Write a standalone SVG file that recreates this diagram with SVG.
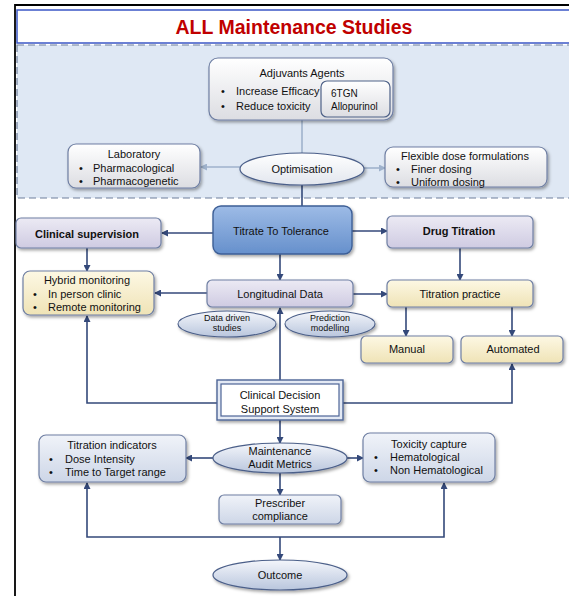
<svg xmlns="http://www.w3.org/2000/svg" width="569" height="596" viewBox="0 0 569 596">
  <style>
    text { font-family: "Liberation Sans", Arial, sans-serif; font-size: 11px; fill: #111; }
    .c { text-anchor: middle; }
    .b { font-weight: bold; }
    .sm { font-size: 9px; }
    .box { stroke: #6f7fa3; stroke-width: 1.2; filter: url(#shadow); }
    .conn { fill: none; stroke: #34497a; stroke-width: 1.6; }
    .soft { fill: none; stroke: #9fb2cc; stroke-width: 1.6; }
  </style>
  <defs>
    <filter id="shadow" x="-10%" y="-10%" width="130%" height="140%">
      <feDropShadow dx="1.5" dy="2" stdDeviation="1.4" flood-color="#000" flood-opacity="0.35"/>
    </filter>
    <linearGradient id="gGrey" x1="0" y1="0" x2="0" y2="1">
      <stop offset="0" stop-color="#ffffff"/>
      <stop offset="1" stop-color="#dcdde2"/>
    </linearGradient>
    <linearGradient id="gLav" x1="0" y1="0" x2="0" y2="1">
      <stop offset="0" stop-color="#eceaf4"/>
      <stop offset="1" stop-color="#cfcbe2"/>
    </linearGradient>
    <linearGradient id="gYel" x1="0" y1="0" x2="0" y2="1">
      <stop offset="0" stop-color="#fdf8e4"/>
      <stop offset="1" stop-color="#efe3b6"/>
    </linearGradient>
    <linearGradient id="gBlueGrey" x1="0" y1="0" x2="0" y2="1">
      <stop offset="0" stop-color="#f0f3f9"/>
      <stop offset="1" stop-color="#cdd6e7"/>
    </linearGradient>
    <linearGradient id="gBlue" x1="0" y1="0" x2="0" y2="1">
      <stop offset="0" stop-color="#9dbbe6"/>
      <stop offset="1" stop-color="#6690cc"/>
    </linearGradient>
    <linearGradient id="gEll" x1="0" y1="0" x2="0" y2="1">
      <stop offset="0" stop-color="#f4f6fb"/>
      <stop offset="1" stop-color="#b9c6dd"/>
    </linearGradient>
    <linearGradient id="gEllWhite" x1="0" y1="0" x2="0" y2="1">
      <stop offset="0" stop-color="#ffffff"/>
      <stop offset="1" stop-color="#e2e6ee"/>
    </linearGradient>
    <marker id="arrow" markerUnits="userSpaceOnUse" markerWidth="7" markerHeight="7" refX="6" refY="3.5" orient="auto">
      <path d="M0,0 L7,3.5 L0,7 z" fill="#34497a"/>
    </marker>
    <marker id="arrowSoft" markerUnits="userSpaceOnUse" markerWidth="7" markerHeight="7" refX="6" refY="3.5" orient="auto">
      <path d="M0,0 L7,3.5 L0,7 z" fill="#9fb2cc"/>
    </marker>
  </defs>

  <!-- page frame -->
  <rect width="569" height="596" fill="#ffffff"/>
  <path d="M15,596 L15,5 L569,5" fill="none" stroke="#000" stroke-width="1.8"/>

  <!-- title band -->
  <g id="title">
    <rect x="17" y="10" width="560" height="33" fill="#ffffff" stroke="#3b57c6" stroke-width="1.5"/>
    <text x="294" y="34" class="c b" style="font-size:19.5px; fill:#c00000;">ALL Maintenance Studies</text>
  </g>

  <!-- optimisation area -->
  <rect id="optimisation-area" x="17" y="45" width="560" height="153" fill="#dfe8f4" stroke="#6f7f9c" stroke-width="1.2" stroke-dasharray="7,4"/>

  <!-- connectors -->
  <g id="connectors">
    <line x1="302" y1="120" x2="302" y2="153" class="soft"/>
    <line x1="302" y1="185" x2="302" y2="206" class="conn"/>
    <line x1="240" y1="167" x2="201" y2="167" class="soft" marker-end="url(#arrowSoft)"/>
    <line x1="364" y1="168" x2="385" y2="168" class="soft" marker-end="url(#arrowSoft)"/>

    <line x1="213" y1="233" x2="162" y2="233" class="conn" marker-end="url(#arrow)"/>
    <line x1="352" y1="231" x2="387" y2="231" class="conn" marker-end="url(#arrow)"/>
    <line x1="87" y1="248" x2="87" y2="271" class="conn" marker-end="url(#arrow)"/>
    <line x1="280" y1="254" x2="280" y2="280" class="conn" marker-end="url(#arrow)"/>
    <line x1="460" y1="248" x2="460" y2="280" class="conn" marker-end="url(#arrow)"/>

    <line x1="207" y1="293" x2="155" y2="293" class="conn" marker-end="url(#arrow)"/>
    <line x1="353" y1="294" x2="387" y2="294" class="conn" marker-end="url(#arrow)"/>
    <line x1="406" y1="307" x2="406" y2="336" class="conn" marker-end="url(#arrow)"/>
    <line x1="512" y1="307" x2="512" y2="336" class="conn" marker-end="url(#arrow)"/>

    <line x1="280" y1="380" x2="280" y2="308" class="conn" marker-end="url(#arrow)"/>
    <polyline points="217,403 87,403 87,316" class="conn" marker-end="url(#arrow)"/>
    <polyline points="343,403 512,403 512,364" class="conn" marker-end="url(#arrow)"/>
    <line x1="280" y1="420" x2="280" y2="443" class="conn" marker-end="url(#arrow)"/>

    <line x1="213" y1="458" x2="186" y2="458" class="conn" marker-end="url(#arrow)"/>
    <line x1="347" y1="458" x2="363" y2="458" class="conn" marker-end="url(#arrow)"/>
    <line x1="280" y1="473" x2="280" y2="495" class="conn" marker-end="url(#arrow)"/>

    <polyline points="280,537 87,537 87,483" class="conn" marker-end="url(#arrow)"/>
    <polyline points="280,537 444,537 444,483" class="conn" marker-end="url(#arrow)"/>
    <line x1="280" y1="537" x2="280" y2="560" class="conn" marker-end="url(#arrow)"/>
  </g>

  <!-- top region nodes -->
  <g id="adjuvants">
    <rect x="209" y="58" width="184" height="62" rx="9" fill="url(#gGrey)" class="box"/>
    <text x="302" y="77" class="c">Adjuvants Agents</text>
    <text x="221" y="95">•</text>
    <text x="236" y="95">Increase Efficacy</text>
    <text x="221" y="110">•</text>
    <text x="236" y="110">Reduce toxicity</text>
  </g>
  <g id="adjuvant-drugs">
    <rect x="321" y="81" width="69" height="36" rx="6" fill="url(#gGrey)" stroke="#4f6288" stroke-width="1.2"/>
    <text x="331" y="97" style="font-size:10px">6TGN</text>
    <text x="331" y="110" style="font-size:10px">Allopurinol</text>
  </g>
  <g id="laboratory">
    <rect x="68" y="144" width="132" height="44" rx="8" fill="url(#gGrey)" class="box"/>
    <text x="134" y="158" class="c">Laboratory</text>
    <text x="79" y="172">•</text>
    <text x="93" y="172">Pharmacological</text>
    <text x="79" y="185">•</text>
    <text x="93" y="185">Pharmacogenetic</text>
  </g>
  <g id="optimisation">
    <ellipse cx="302" cy="169" rx="62" ry="16" fill="url(#gEllWhite)" stroke="#4b5f89" stroke-width="1.2" filter="url(#shadow)"/>
    <text x="302" y="173" class="c">Optimisation</text>
  </g>
  <g id="flexible-dose">
    <rect x="385" y="147" width="162" height="40" rx="8" fill="url(#gGrey)" class="box"/>
    <text x="465" y="160" class="c">Flexible dose formulations</text>
    <text x="396" y="173">•</text>
    <text x="411" y="173">Finer dosing</text>
    <text x="396" y="186">•</text>
    <text x="411" y="186">Uniform dosing</text>
  </g>

  <!-- titration row -->
  <g id="titrate-to-tolerance">
    <rect x="213" y="206" width="139" height="48" rx="8" fill="url(#gBlue)" stroke="#3e5f96" stroke-width="1.4" filter="url(#shadow)"/>
    <text x="281" y="235" class="c">Titrate To Tolerance</text>
  </g>
  <g id="clinical-supervision">
    <rect x="16" y="218" width="145" height="30" rx="5" fill="url(#gLav)" class="box"/>
    <text x="87" y="238" class="c b">Clinical supervision</text>
  </g>
  <g id="drug-titration">
    <rect x="387" y="216" width="146" height="32" rx="5" fill="url(#gLav)" class="box"/>
    <text x="459" y="235" class="c b">Drug Titration</text>
  </g>

  <!-- data row -->
  <g id="hybrid-monitoring">
    <rect x="23" y="271" width="131" height="44" rx="7" fill="url(#gYel)" class="box"/>
    <text x="87" y="284" class="c">Hybrid monitoring</text>
    <text x="33" y="298">•</text>
    <text x="48" y="298">In person clinic</text>
    <text x="33" y="311">•</text>
    <text x="48" y="311">Remote monitoring</text>
  </g>
  <g id="longitudinal-data">
    <rect x="207" y="280" width="146" height="27" rx="5" fill="url(#gLav)" class="box"/>
    <text x="280" y="298" class="c">Longitudinal Data</text>
  </g>
  <g id="data-driven-studies">
    <ellipse cx="227" cy="324" rx="49" ry="13" fill="url(#gEll)" stroke="#4b5f89" stroke-width="1.1" filter="url(#shadow)"/>
    <text x="227" y="321" class="c sm">Data driven</text>
    <text x="227" y="331" class="c sm">studies</text>
  </g>
  <g id="prediction-modelling">
    <ellipse cx="330" cy="324" rx="45" ry="13" fill="url(#gEll)" stroke="#4b5f89" stroke-width="1.1" filter="url(#shadow)"/>
    <text x="330" y="321" class="c sm">Prediction</text>
    <text x="330" y="331" class="c sm">modelling</text>
  </g>
  <g id="titration-practice">
    <rect x="387" y="280" width="146" height="27" rx="5" fill="url(#gYel)" class="box"/>
    <text x="460" y="298" class="c">Titration practice</text>
  </g>
  <g id="manual">
    <rect x="361" y="336" width="92" height="27" rx="5" fill="url(#gYel)" class="box"/>
    <text x="407" y="353" class="c">Manual</text>
  </g>
  <g id="automated">
    <rect x="461" y="336" width="102" height="27" rx="5" fill="url(#gYel)" class="box"/>
    <text x="513" y="353" class="c">Automated</text>
  </g>

  <!-- decision support -->
  <g id="clinical-decision-support">
    <rect x="217" y="380" width="126" height="40" fill="#e3e9f4" stroke="#4d6496" stroke-width="1.4" filter="url(#shadow)"/>
    <rect x="221" y="384" width="118" height="32" fill="#ffffff" stroke="#4d6496" stroke-width="1.2"/>
    <text x="280" y="399" class="c">Clinical Decision</text>
    <text x="280" y="413" class="c">Support System</text>
  </g>

  <!-- audit row -->
  <g id="titration-indicators">
    <rect x="39" y="435" width="147" height="47" rx="7" fill="url(#gBlueGrey)" class="box"/>
    <text x="112" y="449" class="c">Titration indicators</text>
    <text x="49" y="463">•</text>
    <text x="65" y="463">Dose Intensity</text>
    <text x="49" y="476">•</text>
    <text x="65" y="476">Time to Target range</text>
  </g>
  <g id="maintenance-audit-metrics">
    <ellipse cx="280" cy="458" rx="67" ry="15" fill="url(#gEll)" stroke="#4b5f89" stroke-width="1.2" filter="url(#shadow)"/>
    <text x="280" y="455" class="c">Maintenance</text>
    <text x="280" y="468" class="c">Audit Metrics</text>
  </g>
  <g id="toxicity-capture">
    <rect x="363" y="433" width="132" height="49" rx="7" fill="url(#gBlueGrey)" class="box"/>
    <text x="429" y="448" class="c">Toxicity capture</text>
    <text x="374" y="461">•</text>
    <text x="390" y="461">Hematological</text>
    <text x="374" y="474">•</text>
    <text x="390" y="474">Non Hematological</text>
  </g>
  <g id="prescriber-compliance">
    <rect x="219" y="495" width="122" height="29" rx="5" fill="url(#gBlueGrey)" class="box"/>
    <text x="280" y="507" class="c">Prescriber</text>
    <text x="280" y="520" class="c">compliance</text>
  </g>
  <g id="outcome">
    <ellipse cx="280" cy="575" rx="67" ry="15" fill="url(#gEll)" stroke="#4b5f89" stroke-width="1.2" filter="url(#shadow)"/>
    <text x="280" y="579" class="c">Outcome</text>
  </g>
</svg>
